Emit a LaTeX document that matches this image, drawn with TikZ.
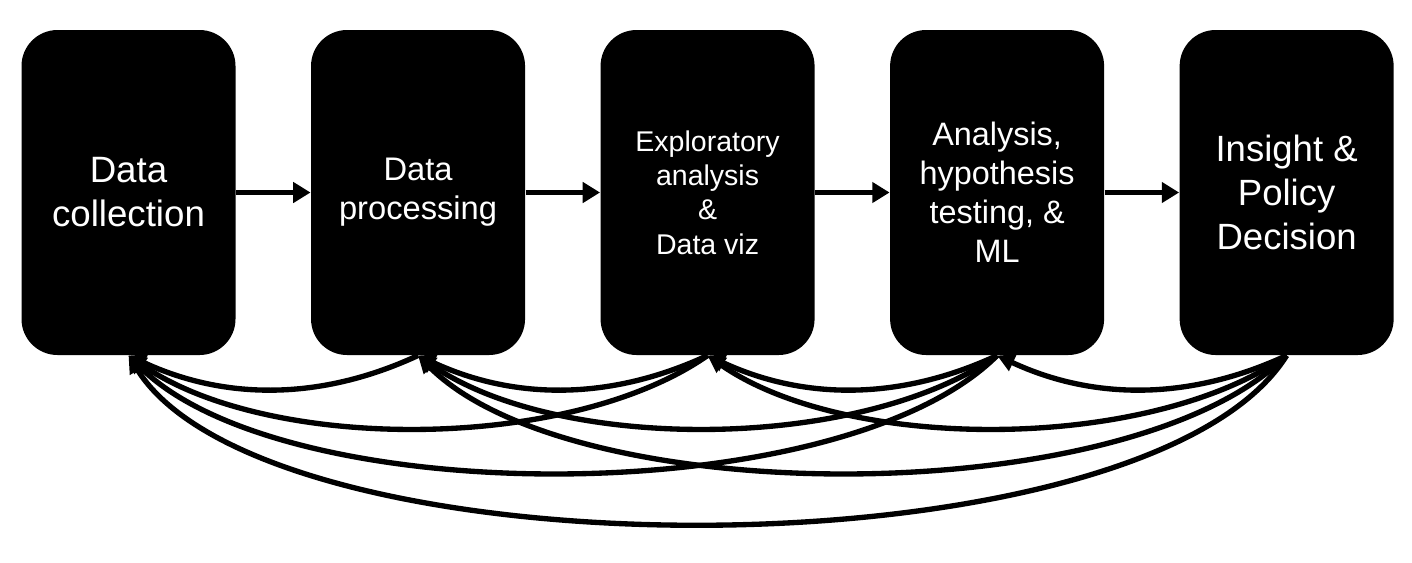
\documentclass[tikz,border=0pt]{standalone}
\usepackage{fontspec}
\setmainfont{Liberation Sans}
\usetikzlibrary{positioning,arrows.meta}

\tikzset{every picture/.style={line width=0.75pt}}
\tikzset{
  stage/.style={rectangle, rounded corners=27pt, fill=black, text=white, align=center,
    minimum width=160.5pt, minimum height=243.75pt, inner sep=0pt},
  flow arrow/.style={line width=3.6pt, -{Triangle[length=13pt,width=15pt]}},
  back arrow/.style={line width=4pt, -{Triangle[length=13pt,width=13pt]}}
}

\begin{document}
\begin{tikzpicture}[x=0.75pt,y=0.75pt,yscale=-1,xscale=1]
\useasboundingbox (0,0) rectangle (1412,562);

%Shape: Rounded Rect [stages]
\node [stage, font=\fontsize{27.5}{33}\selectfont] (s1) at (128.5,192.5) {Data\\collection};
\node [stage, font=\fontsize{24.5}{29.4}\selectfont, right=55.9pt of s1] (s2) {Data\\processing};
\node [stage, font=\fontsize{21.4}{25.7}\selectfont, right=55.9pt of s2] (s3) {Exploratory\\analysis\\\&\\Data viz};
\node [stage, font=\fontsize{24.3}{29.2}\selectfont, right=55.9pt of s3] (s4) {Analysis,\\hypothesis\\testing, \&\\ML};
\node [stage, font=\fontsize{27.4}{32.9}\selectfont, right=55.9pt of s4] (s5) {Insight \&\\Policy\\Decision};

%Straight Lines [forward]
\foreach \i/\j in {1/2,2/3,3/4,4/5}
  \draw [flow arrow] (s\i) -- (s\j);

%Curve Lines [feedback]
\foreach \j in {2,...,5}{
  \pgfmathtruncatemacro{\last}{\j-1}
  \foreach \i in {1,...,\last}{
    \pgfmathtruncatemacro{\k}{\j-\i}
    \pgfmathsetmacro{\cx}{{97,139,156,140}[\k-1]}
    \pgfmathsetmacro{\cy}{{45,97,156,224}[\k-1]}
    \draw [back arrow] (s\j.south) .. controls +(-\cx,\cy) and +(\cx,\cy) .. (s\i.south);
  }
}

\end{tikzpicture}
\end{document}
